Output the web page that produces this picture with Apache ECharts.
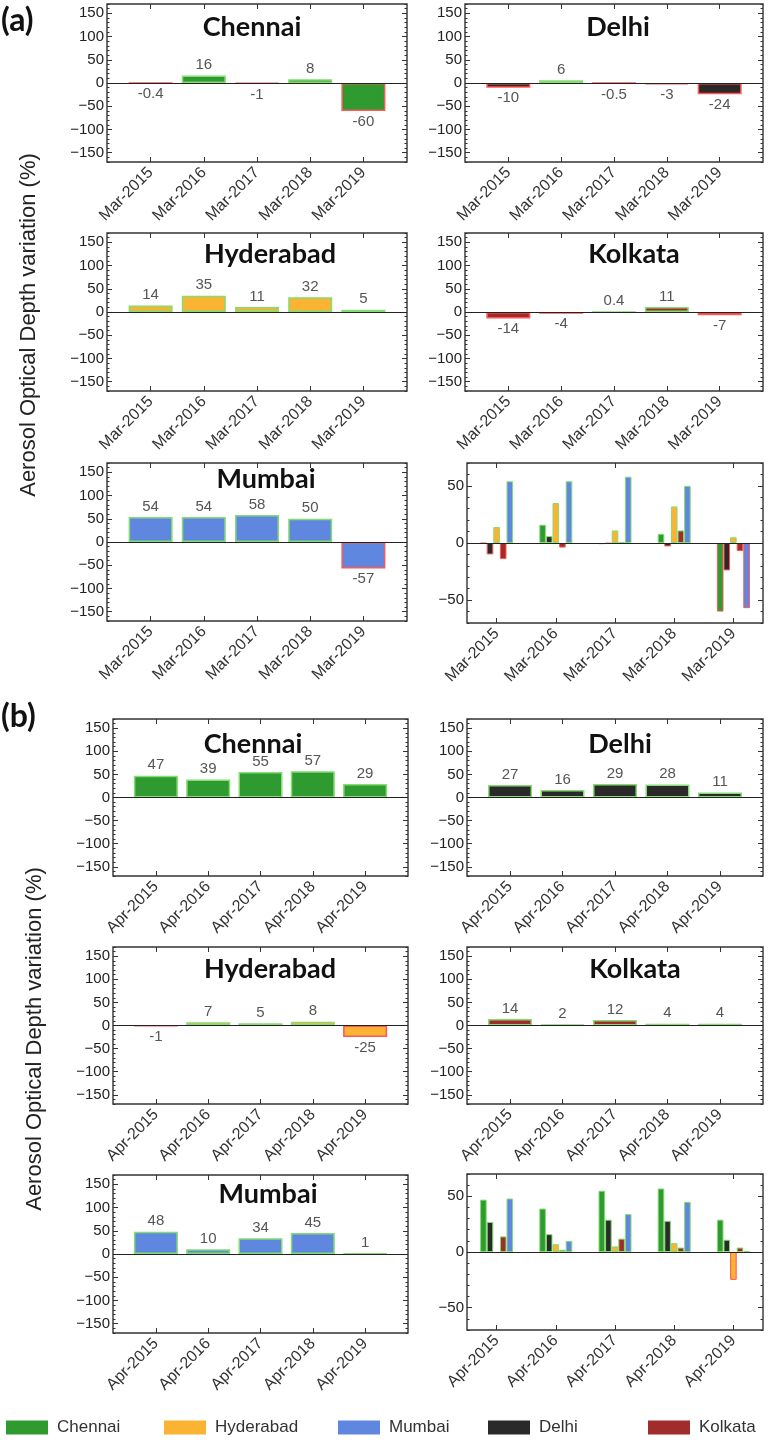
<!DOCTYPE html>
<html><head><meta charset="utf-8">
<script src="https://cdn.jsdelivr.net/npm/echarts@6/dist/echarts.min.js"></script>
<style>html,body{margin:0;padding:0;background:#fff}#c{width:768px;height:1443px}</style>
</head><body><div id="c"></div>
<script>
// ---------- data ----------
const catsMar = ['Mar-2015','Mar-2016','Mar-2017','Mar-2018','Mar-2019'];
const catsApr = ['Apr-2015','Apr-2016','Apr-2017','Apr-2018','Apr-2019'];
const cityOrder = ['Chennai','Delhi','Hyderabad','Kolkata','Mumbai'];
const legendNames = ['Chennai','Hyderabad','Mumbai','Delhi','Kolkata'];

const marChennai   = [-0.4, 16, -1, 8, -60];
const marDelhi     = [-10, 6, -0.5, -3, -24];
const marHyderabad = [14, 35, 11, 32, 5];
const marKolkata   = [-14, -4, 0.4, 11, -7];
const marMumbai    = [54, 54, 58, 50, -57];

const aprChennai   = [47, 39, 55, 57, 29];
const aprDelhi     = [27, 16, 29, 28, 11];
const aprHyderabad = [-1, 7, 5, 8, -25];
const aprKolkata   = [14, 2, 12, 4, 4];
const aprMumbai    = [48, 10, 34, 45, 1];

const yTicksSingle   = [-150, -100, -50, 0, 50, 100, 150];
const yTicksCombined = [-50, 0, 50];
const yLabelText = 'Aerosol Optical Depth variation (%)';

// ---------- styling ----------
const FONT = "'Liberation Sans', Arial, sans-serif";
const colors = {Chennai:'#2e9a2f', Hyderabad:'#fbb334', Mumbai:'#5f87e0', Delhi:'#2a2a2a', Kolkata:'#a02d2b'};
const POS_EDGE = '#84dc72', NEG_EDGE = '#ff5656';

const mar = {Chennai:marChennai, Delhi:marDelhi, Hyderabad:marHyderabad, Kolkata:marKolkata, Mumbai:marMumbai};
const apr = {Chennai:aprChennai, Delhi:aprDelhi, Hyderabad:aprHyderabad, Kolkata:aprKolkata, Mumbai:aprMumbai};

const panels = [
  {kind:'single', city:'Chennai',   set:mar, cats:catsMar, tag:'a', box:[107,4,300,158],     title:[252,27]},
  {kind:'single', city:'Delhi',     set:mar, cats:catsMar, tag:'a', box:[465,4,298,158],     title:[618,27]},
  {kind:'single', city:'Hyderabad', set:mar, cats:catsMar, tag:'a', box:[107,233,300,158],   title:[270,254]},
  {kind:'single', city:'Kolkata',   set:mar, cats:catsMar, tag:'a', box:[465,233,298,158],   title:[634,254]},
  {kind:'single', city:'Mumbai',    set:mar, cats:catsMar, tag:'a', box:[107,463,300,158],   title:[266,479]},
  {kind:'combined', set:mar, cats:catsMar, box:[467,463,296,160]},
  {kind:'single', city:'Chennai',   set:apr, cats:catsApr, tag:'b', box:[113,719,295,157],   title:[253,744]},
  {kind:'single', city:'Delhi',     set:apr, cats:catsApr, tag:'b', box:[467,719,296,157],   title:[620,744]},
  {kind:'single', city:'Hyderabad', set:apr, cats:catsApr, tag:'b', box:[113,947,295,157],   title:[270,969]},
  {kind:'single', city:'Kolkata',   set:apr, cats:catsApr, tag:'b', box:[467,947,296,157],   title:[635,969]},
  {kind:'single', city:'Mumbai',    set:apr, cats:catsApr, tag:'b', box:[113,1175,295,158],  title:[268,1194]},
  {kind:'combined', set:apr, cats:catsApr, box:[467,1174,296,156]}
];

const tickLine = {color:'#333', width:1};
const noLine = {show:false, onZero:false};
const zeroLine = {silent:true, symbol:['none','none'], label:{show:false}, lineStyle:{color:'#222', width:1.2, type:'solid'}, data:[{yAxis:0}], animation:false};
const signFmt = v => v < 0 ? '\u2212' + Math.abs(v) : String(v);

const grid = [], xAxis = [], yAxis = [], series = [], graphic = [];

panels.forEach((p, gi) => {
  const [l,t,w,h] = p.box;
  grid.push({left:l, top:t, width:w, height:h, show:true, borderColor:'#333', borderWidth:1.4, backgroundColor:'rgba(0,0,0,0)'});
  const single = p.kind === 'single';
  const ymin = single ? -170 : -70, ymax = single ? 170 : 70;
  const majors = single ? yTicksSingle : yTicksCombined;
  const xb = xAxis.length;
  const labelStyle = {rotate:45, margin:8, fontSize:16, color:'#333', fontFamily:FONT};
  if (single) {
    const xv = p.cats.map((c,i)=>i);
    const base = {type:'value', gridIndex:gi, min:-0.82, max:4.82, axisLine:noLine, splitLine:{show:false}};
    xAxis.push(Object.assign({}, base, {position:'bottom',
      axisTick:{show:true, inside:true, length:5, customValues:xv, lineStyle:tickLine},
      axisLabel:Object.assign({show:true, customValues:xv, formatter:v=>p.cats[Math.round(v)]}, labelStyle)}));
    xAxis.push(Object.assign({}, base, {position:'top',
      axisTick:{show:true, inside:true, length:5, customValues:xv, lineStyle:tickLine}, axisLabel:{show:false}}));
  } else {
    const base = {type:'category', gridIndex:gi, data:p.cats, boundaryGap:true, axisLine:noLine, splitLine:{show:false}};
    xAxis.push(Object.assign({}, base, {position:'bottom',
      axisTick:{show:true, inside:true, length:5, alignWithLabel:true, lineStyle:tickLine},
      axisLabel:Object.assign({show:true, interval:0}, labelStyle)}));
    xAxis.push(Object.assign({}, base, {position:'top',
      axisTick:{show:true, inside:true, length:5, alignWithLabel:true, lineStyle:tickLine}, axisLabel:{show:false}}));
  }
  const yb = yAxis.length;
  const ybase = {type:'value', gridIndex:gi, min:ymin, max:ymax, axisLine:noLine, splitLine:{show:false}};
  yAxis.push(Object.assign({}, ybase, {position:'left',
    axisTick:{show:true, inside:true, length:5, customValues:majors, lineStyle:tickLine},
    axisLabel:{show:true, customValues:majors, formatter:signFmt, margin:3, fontSize:15, color:'#222', fontFamily:FONT}}));
  yAxis.push(Object.assign({}, ybase, {position:'left', interval:10,
    axisTick:{show:true, inside:true, length:2.5, lineStyle:tickLine}, axisLabel:{show:false}}));
  yAxis.push(Object.assign({}, ybase, {position:'right',
    axisTick:{show:true, inside:true, length:5, customValues:majors, lineStyle:tickLine}, axisLabel:{show:false}}));
  yAxis.push(Object.assign({}, ybase, {position:'right', interval:10,
    axisTick:{show:true, inside:true, length:2.5, lineStyle:tickLine}, axisLabel:{show:false}}));

  if (single) {
    const vals = p.set[p.city];
    series.push({type:'bar', name:p.city+'-'+p.tag, xAxisIndex:xb, yAxisIndex:yb, barWidth:44,
      itemStyle:{color:colors[p.city], borderWidth:1.5},
      label:{show:true, formatter:q=>String(q.value[1]), fontSize:15, color:'#555', fontFamily:FONT, distance:3},
      data: vals.map((v,i)=>({value:[i,v], itemStyle:{borderColor: v>=0?POS_EDGE:NEG_EDGE}, label:{position: v>=0?'top':'bottom'}})),
      markLine: zeroLine, z:2});
    graphic.push({type:'text', x:p.title[0], y:p.title[1], z:10,
      style:{text:p.city, font:"bold 27px Lato, 'Open Sans', sans-serif", fill:'#111', align:'center', verticalAlign:'middle'}});
  } else {
    cityOrder.forEach((c, k) => {
      const s = {type:'bar', name:c, xAxisIndex:xb, yAxisIndex:yb, barWidth:6.6, barGap:'0%',
        itemStyle:{color:colors[c], borderWidth:1},
        data: p.set[c].map(v=>({value:v, itemStyle:{borderColor: v>=0?POS_EDGE:NEG_EDGE}})), z:2};
      if (k === 0) s.markLine = zeroLine;
      series.push(s);
    });
  }
});

graphic.push({type:'text', x:1, y:21, style:{text:'(a)', font:"bold 32px Lato, sans-serif", fill:'#111', align:'left', verticalAlign:'middle'}});
graphic.push({type:'text', x:1, y:717, style:{text:'(b)', font:"bold 32px Lato, sans-serif", fill:'#111', align:'left', verticalAlign:'middle'}});
graphic.push({type:'text', x:29, y:325, rotation:Math.PI/2, style:{text:yLabelText, font:"22px 'Liberation Sans', Arial, sans-serif", fill:'#222', align:'center', verticalAlign:'middle'}});
graphic.push({type:'text', x:35, y:1039, rotation:Math.PI/2, style:{text:yLabelText, font:"22px 'Liberation Sans', Arial, sans-serif", fill:'#222', align:'center', verticalAlign:'middle'}});

const legendLeft = [6, 164, 338, 488, 648];
const legend = legendNames.map((n,i)=>({data:[n], left:legendLeft[i], top:1419, icon:'rect', itemWidth:42, itemHeight:14,
  padding:0, selectedMode:false, itemStyle:{borderWidth:0},
  textStyle:{fontSize:17, color:'#333', fontFamily:FONT, padding:[0,0,0,4]}}));

const chart = echarts.init(document.getElementById('c'), null, {renderer:'canvas'});
chart.setOption({animation:false, backgroundColor:'#fff', grid, xAxis, yAxis, series, legend, graphic});
</script>
</body></html>
